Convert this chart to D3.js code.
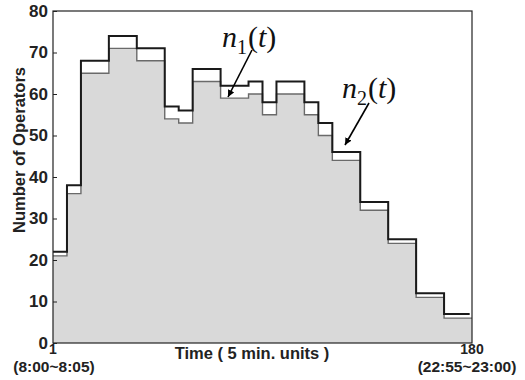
<!DOCTYPE html>
<html>
<head>
<meta charset="utf-8">
<script src="https://cdn.jsdelivr.net/npm/d3@7"></script>
<style>
    body { margin: 0; background: #fff; }
    svg { display: block; }
</style>
</head>
<body>
<div id="chart"></div>
<script>
// bin edges in 5 min. slots, values per bin
const binEdges = [0, 6, 12, 24, 36, 48, 54, 60, 72, 84, 90, 96, 108, 114, 120, 132, 144, 156, 168, 180];
const n1Values = [22, 38, 68, 74, 71, 57, 56, 66, 62, 63, 58, 63, 58, 53, 46, 34, 25, 12, 7];
const n2Values = [21, 36, 65, 71, 68, 54, 53, 63, 59, 60, 55, 60, 55, 50, 44, 32, 24, 11, 6];
const n1End = 179;
const yTicks = [0, 10, 20, 30, 40, 50, 60, 70, 80];
const xTicks = [0, 180];
const xTickLabels = ["1", "180"];
const xTickSubLabels = ["(8:00~8:05)", "(22:55~23:00)"];

class StepChart {
    constructor(_config) {
        this.config = _config;
        this.InitVis();
    }

    InitVis() {
        const vis = this;

        vis.config.margin = {top: 11, right: 53, bottom: 37, left: 53};
        vis.config.width = 525;
        vis.config.height = 380;

        vis.innerWidth = vis.config.width - vis.config.margin.left - vis.config.margin.right;
        vis.innerHeight = vis.config.height - vis.config.margin.top - vis.config.margin.bottom;

        vis.root = d3.select(vis.config.parentElement)
            .append("svg")
            .attr("width", vis.config.width)
            .attr("height", vis.config.height);

        vis.svg = vis.root.append("g")
            .attr("transform", `translate(${vis.config.margin.left},${vis.config.margin.top})`);

        vis.x = d3.scaleLinear().domain([0, 180]).range([0, vis.innerWidth]);
        vis.y = d3.scaleLinear().domain([0, 80]).range([vis.innerHeight, 0]);

        vis.UpdateVis();
    }

    stepPoints(values, endX) {
        const pts = values.map((v, i) => [binEdges[i], v]);
        pts.push([endX, values[values.length - 1]]);
        return pts;
    }

    UpdateVis() {
        const vis = this;
        const font = "'Liberation Sans', Arial, sans-serif";

        // gray area for n2
        const area = d3.area()
            .x(d => vis.x(d[0]))
            .y0(vis.y(0))
            .y1(d => vis.y(d[1]))
            .curve(d3.curveStepAfter);

        const n2Pts = vis.stepPoints(n2Values, binEdges[binEdges.length - 1]);

        vis.svg.append("path")
            .datum(n2Pts)
            .attr("d", area)
            .attr("fill", "#d9d9d9");

        const line = d3.line()
            .x(d => vis.x(d[0]))
            .y(d => vis.y(d[1]))
            .curve(d3.curveStepAfter);

        vis.svg.append("path")
            .datum(n2Pts)
            .attr("d", line)
            .attr("fill", "none")
            .attr("stroke", "#6a6a6a")
            .attr("stroke-width", 1.4);

        vis.svg.append("path")
            .datum(vis.stepPoints(n1Values, n1End))
            .attr("d", line)
            .attr("fill", "none")
            .attr("stroke", "#1a1a1a")
            .attr("stroke-width", 2);

        // frame
        vis.svg.append("rect")
            .attr("x", 0)
            .attr("y", 0)
            .attr("width", vis.innerWidth)
            .attr("height", vis.innerHeight)
            .attr("fill", "none")
            .attr("stroke", "#222")
            .attr("stroke-width", 1.2);

        // y axis, ticks pointing inward
        const yAxis = vis.svg.append("g")
            .call(d3.axisLeft(vis.y).tickValues(yTicks).tickSize(-4).tickPadding(5));
        yAxis.select(".domain").remove();
        yAxis.selectAll("line").attr("stroke", "#222");
        yAxis.selectAll("text")
            .attr("font-family", font)
            .attr("font-weight", "bold")
            .attr("font-size", "17px")
            .attr("fill", "#222");

        // x tick labels
        const xLab = vis.svg.append("g")
            .attr("font-family", font)
            .attr("font-weight", "bold")
            .attr("fill", "#222");

        xLab.selectAll("text.tick")
            .data(xTicks)
            .enter()
            .append("text")
            .attr("class", "tick")
            .attr("x", d => vis.x(d))
            .attr("y", vis.innerHeight + 10.5)
            .attr("text-anchor", "middle")
            .attr("font-size", "14px")
            .text((d, i) => xTickLabels[i]);

        xLab.selectAll("text.sub")
            .data(xTicks)
            .enter()
            .append("text")
            .attr("class", "sub")
            .attr("x", (d, i) => vis.x(d) + (i === 0 ? 1 : -5))
            .attr("y", vis.innerHeight + 28.5)
            .attr("text-anchor", "middle")
            .attr("font-size", "15.5px")
            .text((d, i) => xTickSubLabels[i]);

        xLab.append("text")
            .attr("x", 252 - vis.config.margin.left)
            .attr("y", vis.innerHeight + 16)
            .attr("text-anchor", "middle")
            .attr("font-size", "16.5px")
            .text("Time ( 5 min. units )");

        vis.svg.append("text")
            .attr("transform", `translate(${25 - vis.config.margin.left},${150 - vis.config.margin.top}) rotate(-90)`)
            .attr("text-anchor", "middle")
            .attr("font-family", font)
            .attr("font-weight", "bold")
            .attr("font-size", "16.5px")
            .attr("fill", "#222")
            .text("Number of Operators");

        // annotations
        vis.root.append("defs").append("marker")
            .attr("id", "arrow")
            .attr("viewBox", "0 0 10 10")
            .attr("refX", 10)
            .attr("refY", 5)
            .attr("markerWidth", 7)
            .attr("markerHeight", 7)
            .attr("markerUnits", "userSpaceOnUse")
            .attr("orient", "auto")
            .append("path")
            .attr("d", "M0,0 L10,5 L0,10 z")
            .attr("fill", "#000");

        const notes = [
            {name: "1", tx: 222, ty: 47, from: [252, 50], to: [228, 97]},
            {name: "2", tx: 342, ty: 98, from: [369, 103], to: [345, 145]}
        ];

        notes.forEach(n => {
            vis.root.append("line")
                .attr("x1", n.from[0]).attr("y1", n.from[1])
                .attr("x2", n.to[0]).attr("y2", n.to[1])
                .attr("stroke", "#000")
                .attr("stroke-width", 1.6)
                .attr("marker-end", "url(#arrow)");

            const t = vis.root.append("text")
                .attr("x", n.tx)
                .attr("y", n.ty)
                .attr("font-family", "'Liberation Serif', 'DejaVu Serif', serif")
                .attr("font-size", "30px")
                .attr("fill", "#111");
            t.append("tspan").attr("font-style", "italic").text("n");
            t.append("tspan").attr("font-size", "20px").attr("dy", 7).text(n.name);
            t.append("tspan").attr("dy", -7).attr("dx", 1).text("(");
            t.append("tspan").attr("font-style", "italic").text("t");
            t.append("tspan").text(")");
        });
    }
}

new StepChart({parentElement: "#chart"});
</script>
</body>
</html>
